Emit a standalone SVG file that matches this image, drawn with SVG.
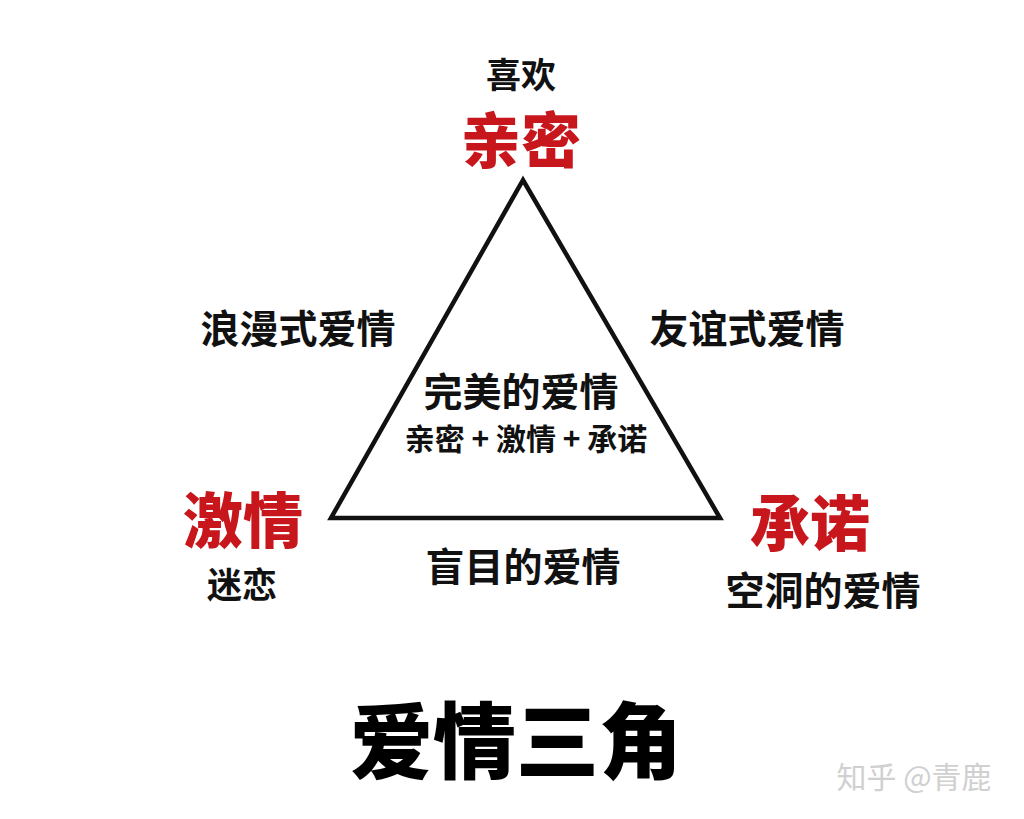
<svg xmlns="http://www.w3.org/2000/svg" width="1024" height="819" viewBox="0 0 1024 819">
<style>
text{font-family:"Noto Sans CJK SC","Noto Sans",sans-serif;text-anchor:middle;dominant-baseline:central}
.lbl{font-size:39px;font-weight:700;fill:#111}
.red{font-size:60px;font-weight:900;fill:#c8161d}
.sm{font-size:35px;font-weight:700;fill:#111}
</style>
<rect width="1024" height="819" fill="#fff"/>
<g id="connectors">
<polygon points="523,180 331,518 720,518" fill="none" stroke="#111" stroke-width="4.5" stroke-linejoin="miter"/>
</g>
<g id="node-intimacy">
<text class="sm" x="521" y="72">喜欢</text>
<text class="red" x="521" y="136">亲密</text>
</g>
<g id="node-passion">
<text class="red" x="243" y="516">激情</text>
<text class="sm" x="242" y="582">迷恋</text>
</g>
<g id="node-commitment">
<text class="red" x="810" y="519">承诺</text>
<text class="lbl" x="823" y="588">空洞的爱情</text>
</g>
<g id="label-romantic"><text class="lbl" x="298" y="326">浪漫式爱情</text></g>
<g id="label-companionate"><text class="lbl" x="747" y="326">友谊式爱情</text></g>
<g id="label-consummate">
<text class="lbl" x="521" y="389">完美的爱情</text>
<text x="526" y="437" style="font-size:30px;font-weight:700;fill:#111">亲密 + 激情 + 承诺</text>
</g>
<g id="label-fatuous"><text class="lbl" x="523" y="564">盲目的爱情</text></g>
<g id="title"><text x="516" y="736" style="font-size:83px;font-weight:900;fill:#000">爱情三角</text></g>
<g id="watermark"><text x="914" y="775" style="font-size:30px;font-weight:400;fill:#d0d0d0">知乎 @青鹿</text></g>
</svg>
